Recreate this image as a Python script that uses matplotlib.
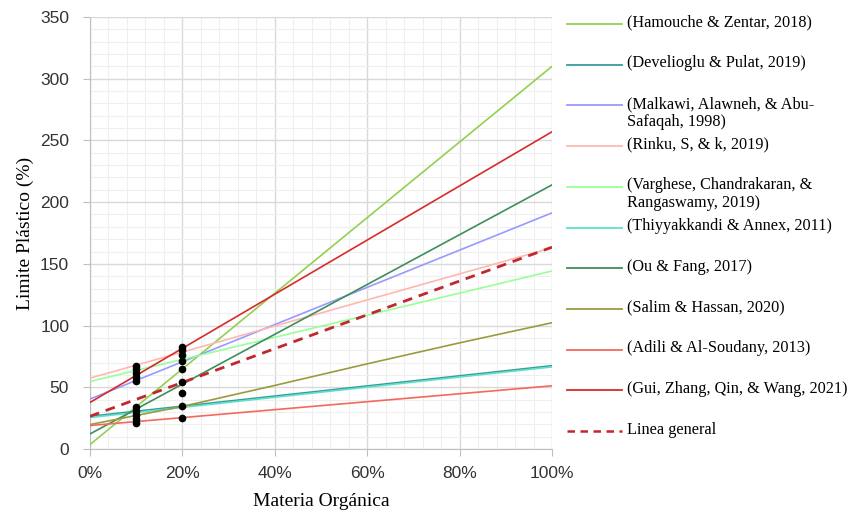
import matplotlib.pyplot as plt
import matplotlib.ticker as mticker
from matplotlib.lines import Line2D

# ---------------- dados ----------------
X_RETA = [0.0, 1.0]

hamouche     = [3.6, 310]
develioglu   = [26.5, 67.5]
malkawi      = [40.5, 191.3]
rinku        = [57.4, 163]
varghese     = [54.7, 144.2]
thiyyakkandi = [25.5, 66.5]
ou_fang      = [12.2, 214]
salim_x      = [0.0, 0.2, 0.4, 0.6, 0.8, 1.0]
salim        = [19.8, 34.5, 51.5, 69, 86, 102.3]
adili        = [19, 51.2]
gui          = [37.7, 257]
geral        = [26.5, 163.5]

pontos_x10 = [0.1] * 10
pontos_y10 = [67.6, 64.5, 61.4, 58.3, 55.2, 34.3, 31.0, 27.8, 24.6, 21.4]
pontos_x20 = [0.2] * 9
pontos_y20 = [82.9, 80.2, 76.2, 71.6, 64.7, 53.9, 45.3, 35.1, 25.2]

ROTULOS = [
    "(Hamouche & Zentar, 2018)",
    "(Develioglu & Pulat, 2019)",
    "(Malkawi, Alawneh, & Abu-\nSafaqah, 1998)",
    "(Rinku, S, & k, 2019)",
    "(Varghese, Chandrakaran, &\nRangaswamy, 2019)",
    "(Thiyyakkandi & Annex, 2011)",
    "(Ou & Fang, 2017)",
    "(Salim & Hassan, 2020)",
    "(Adili & Al-Soudany, 2013)",
    "(Gui, Zhang, Qin, & Wang, 2021)",
    "Linea general",
]
CORES = [
    "#92D050", "#3A9A9A", "#9999FF", "#FFB8B0", "#99FF99",
    "#5FE0C8", "#3E8E5C", "#9A9A3E", "#F4695C", "#D92A2A", "#C0282E",
]

SERIF = "Liberation Serif"
SANS = "Liberation Sans"

fig = plt.figure(figsize=(8.57, 5.16), dpi=100)
ax = fig.add_axes([90 / 857, 1 - 449 / 516, 462 / 857, 432 / 516])

series = [
    (X_RETA, hamouche), (X_RETA, develioglu), (X_RETA, malkawi),
    (X_RETA, rinku), (X_RETA, varghese), (X_RETA, thiyyakkandi),
    (X_RETA, ou_fang), (salim_x, salim), (X_RETA, adili), (X_RETA, gui),
]
for (xs, ys), cor in zip(series, CORES[:10]):
    ax.plot(xs, ys, color=cor, linewidth=1.2, zorder=3)

ax.plot(X_RETA, geral, color=CORES[10], linewidth=2.0,
        linestyle=(0, (3.5, 2.5)), zorder=4)

ax.plot(pontos_x10, pontos_y10, "o", color="black", markersize=4.5, zorder=5)
ax.plot(pontos_x20, pontos_y20, "o", color="black", markersize=4.5, zorder=5)

ax.set_xlim(0, 1)
ax.set_ylim(0, 350)
ax.xaxis.set_major_locator(mticker.MultipleLocator(0.2))
ax.xaxis.set_minor_locator(mticker.MultipleLocator(0.04))
ax.yaxis.set_major_locator(mticker.MultipleLocator(50))
ax.yaxis.set_minor_locator(mticker.MultipleLocator(10))
ax.xaxis.set_major_formatter(mticker.PercentFormatter(1.0, decimals=0))

ax.grid(which="major", color="#D9D9D9", linewidth=1.0, zorder=0)
ax.grid(which="minor", color="#EFEFEF", linewidth=0.8, zorder=0)
ax.set_axisbelow(True)

for lado in ["top", "right"]:
    ax.spines[lado].set_visible(False)
for lado in ["left", "bottom"]:
    ax.spines[lado].set_color("#BFBFBF")

ax.tick_params(which="major", length=5, color="#BFBFBF", labelsize=12.5,
               labelcolor="#333333")
ax.tick_params(axis="y", which="major", pad=10)
ax.tick_params(axis="x", which="major", pad=7)
ax.tick_params(which="minor", length=0)
for lab in ax.get_xticklabels() + ax.get_yticklabels():
    lab.set_family(SANS)

ax.set_ylabel("Limite Plástico (%)", family=SERIF, fontsize=14, labelpad=4)
ax.set_xlabel("Materia Orgánica", family=SERIF, fontsize=14, labelpad=9)

# legenda manual (estilo Excel)
y0 = 24
passo = 40.7
for i, (rot, cor) in enumerate(zip(ROTULOS, CORES)):
    y = 1 - (y0 + i * passo) / 516
    estilo = (0, (3, 2.2)) if i == 10 else "-"
    lw = 1.8 if i == 10 else 1.3
    fig.add_artist(Line2D([567 / 857, 622 / 857], [y, y], color=cor,
                          linewidth=lw, linestyle=estilo))
    fig.text(627 / 857, y + 9.5 / 516, rot, family=SERIF, fontsize=11.7,
             va="top", ha="left", color="black", linespacing=1.15)

plt.savefig("out.png", dpi=100)
plt.close()
